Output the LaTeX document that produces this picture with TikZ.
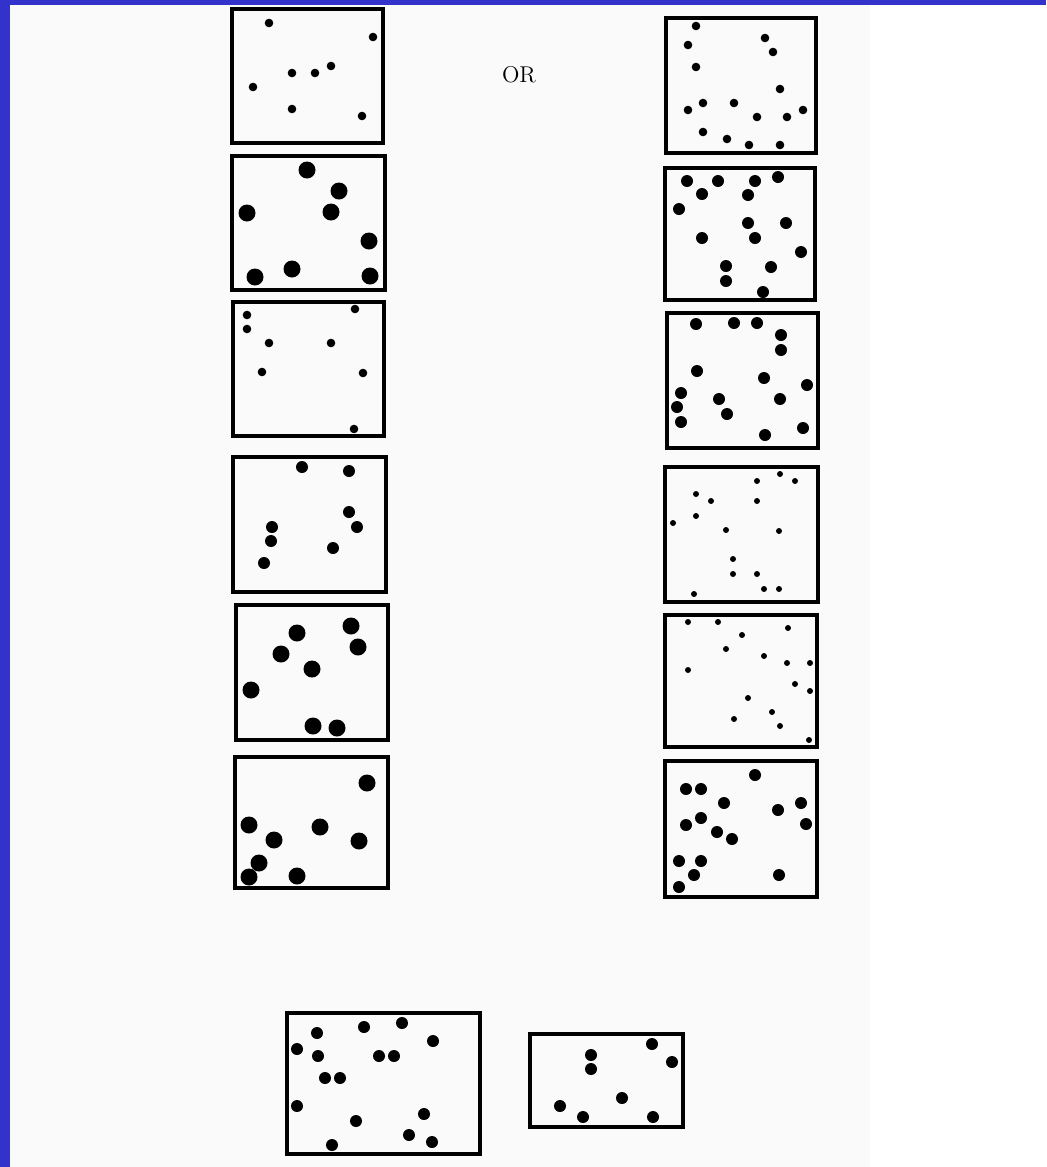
\documentclass[tikz,border=0pt]{standalone}
\usepackage{tikz}
\definecolor{slideblue}{RGB}{51,51,204}
\definecolor{pagetint}{RGB}{250,250,250}

\begin{document}
\begin{tikzpicture}[
  x=0.02cm,y=-0.02cm,
  panel/.style={draw,line width=2pt},
  dotxs/.style={radius=3},
  dotsm/.style={radius=4.3},
  dotmd/.style={radius=6},
  dotlg/.style={radius=8.5}
]
  % slide frame and page
  \useasboundingbox (0,0) rectangle (1046,1167);
  \fill[white] (0,0) rectangle (1046,1167);
  \fill[pagetint] (10,5) rectangle (870,1167);
  \fill[slideblue] (0,0) rectangle (1046,5);
  \fill[slideblue] (0,0) rectangle (10,1167);

  \node[font=\fontsize{13}{15}\selectfont] (orlabel) at (519,75) {OR};

  % left column
  \draw[panel] (232,9) rectangle (383,143);
  \foreach \px/\py in {269/23,373/37,292/73,315/73,331/66,253/87,292/109,362/116}
    \fill[dotsm] (\px,\py) circle;

  \draw[panel] (232,156) rectangle (385,290);
  \foreach \px/\py in {307/170,339/191,247/213,331/212,369/241,255/277,292/269,370/276}
    \fill[dotlg] (\px,\py) circle;

  \draw[panel] (233,302) rectangle (384,436);
  \foreach \px/\py in {247/315,247/329,355/309,269/343,331/343,262/372,363/373,354/429}
    \fill[dotsm] (\px,\py) circle;

  \draw[panel] (233,457) rectangle (386,592);
  \foreach \px/\py in {302/467,349/471,349/512,357/527,272/527,271/541,333/548,264/563}
    \fill[dotmd] (\px,\py) circle;

  \draw[panel] (236,605) rectangle (388,740);
  \foreach \px/\py in {297/633,281/654,351/626,358/647,312/669,251/690,313/726,337/728}
    \fill[dotlg] (\px,\py) circle;

  \draw[panel] (235,757) rectangle (388,888);
  \foreach \px/\py in {367/783,249/825,320/827,359/841,274/840,259/863,249/877,297/876}
    \fill[dotlg] (\px,\py) circle;

  % right column
  \draw[panel] (666,18) rectangle (816,153);
  \foreach \px/\py in {696/26,688/45,696/67,765/38,773/52,780/89,703/103,688/110,
                       734/103,757/117,787/117,803/110,703/132,727/139,749/145,780/145}
    \fill[dotsm] (\px,\py) circle;

  \draw[panel] (665,168) rectangle (815,300);
  \foreach \px/\py in {687/181,718/181,755/181,778/177,702/194,748/195,679/209,748/223,
                       786/223,702/238,755/238,801/252,726/266,771/267,726/281,763/292}
    \fill[dotmd] (\px,\py) circle;

  \draw[panel] (667,313) rectangle (818,448);
  \foreach \px/\py in {696/324,734/323,757/323,781/335,781/350,697/371,764/378,807/385,
                       681/393,719/399,780/399,677/407,727/414,681/422,803/428,765/435}
    \fill[dotmd] (\px,\py) circle;

  \draw[panel] (665,467) rectangle (818,602);
  \foreach \px/\py in {780/474,757/481,795/481,696/494,711/501,757/501,696/516,673/523,
                       726/530,779/531,733/559,733/574,757/574,764/589,779/589,694/594}
    \fill[dotxs] (\px,\py) circle;

  \draw[panel] (665,615) rectangle (817,747);
  \foreach \px/\py in {688/622,718/622,788/628,742/635,726/649,764/656,787/663,810/663,
                       688/670,795/684,810/691,748/698,772/712,734/719,780/726,809/740}
    \fill[dotxs] (\px,\py) circle;

  \draw[panel] (665,761) rectangle (817,897);
  \foreach \px/\py in {755/775,686/789,701/789,724/803,778/810,801/803,686/825,701/818,
                       806/824,717/832,732/839,679/861,701/861,694/875,779/875,679/887}
    \fill[dotmd] (\px,\py) circle;

  % bottom pair
  \draw[panel] (287,1013) rectangle (480,1154);
  \foreach \px/\py in {317/1033,364/1027,402/1023,433/1041,297/1049,318/1056,379/1056,394/1056,
                       325/1078,340/1078,297/1106,424/1114,356/1121,409/1135,432/1142,332/1145}
    \fill[dotmd] (\px,\py) circle;

  \draw[panel] (530,1034) rectangle (683,1127);
  \foreach \px/\py in {652/1044,591/1055,591/1069,672/1062,622/1098,560/1106,583/1117,653/1117}
    \fill[dotmd] (\px,\py) circle;
\end{tikzpicture}
\end{document}
